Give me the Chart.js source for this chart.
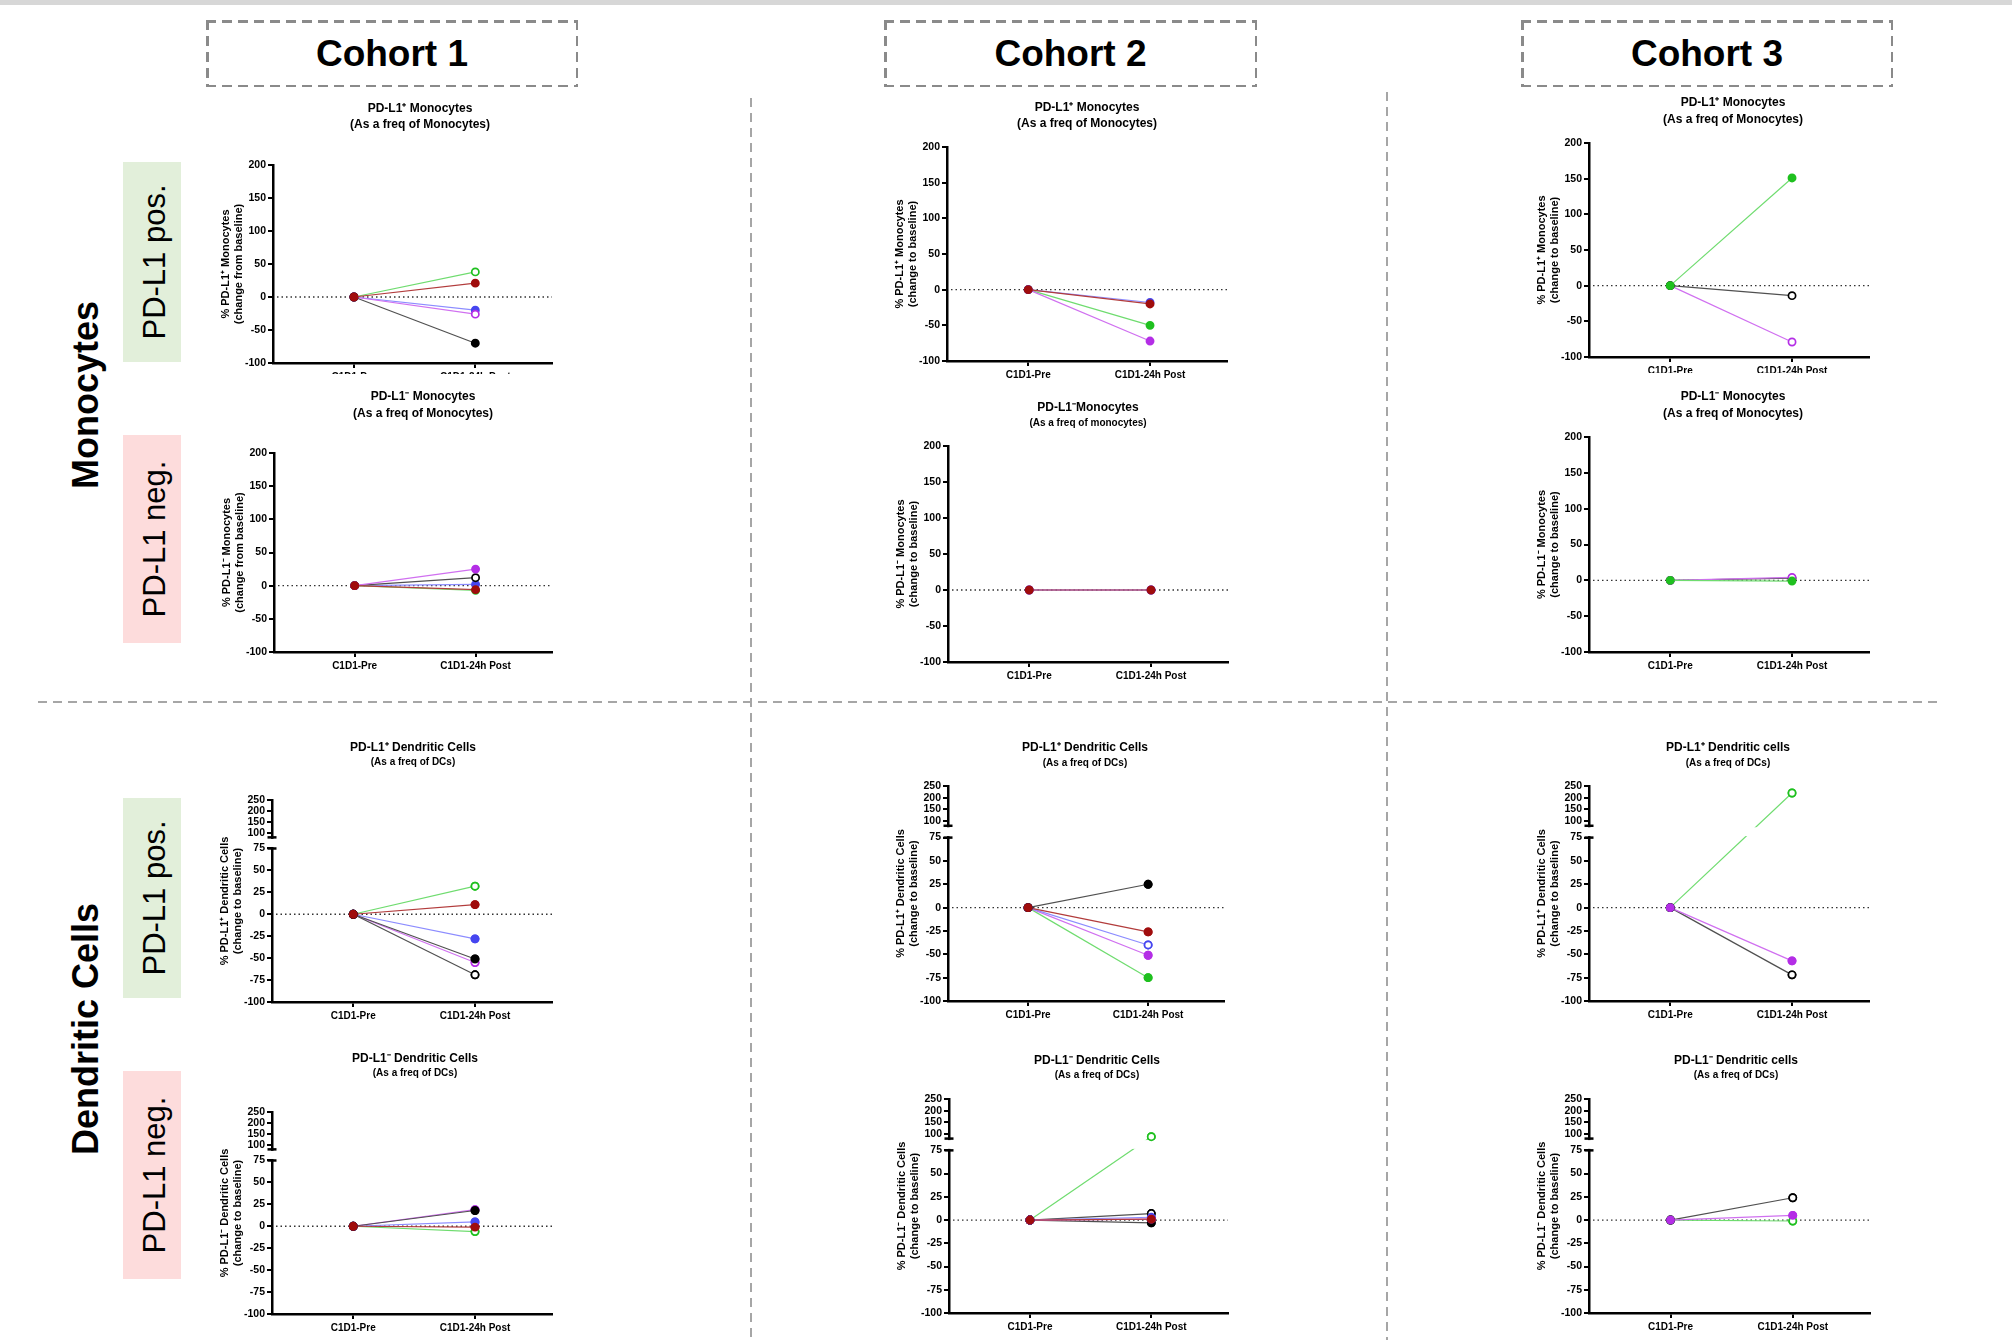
<!DOCTYPE html>
<html>
<head>
<meta charset="utf-8">
<script src="https://cdn.jsdelivr.net/npm/chart.js@4.4.1/dist/chart.umd.min.js"></script>
<style>
html, body { margin: 0; padding: 0; background: #fff; }
#page { position: relative; width: 2012px; height: 1340px; overflow: hidden;
        font-family: 'Liberation Sans', Arial, Helvetica, sans-serif; color: #000; }
.vlabel { position: absolute; transform: translate(-50%, -50%) rotate(-90deg); white-space: nowrap; }
.box { position: absolute; }
.cohort { position: absolute; display: flex; align-items: center; justify-content: center;
          font-weight: bold; font-size: 37px; }
</style>
</head>
<body>
<div id="page"></div>
<script>
// ---- data ----
const xLabels = ['C1D1-Pre', 'C1D1-24h Post'];
const monoTicks = [-100, -50, 0, 50, 100, 150, 200];
const dcTicks = [-100, -75, -50, -25, 0, 25, 50, 75, 100, 150, 200, 250];

// series are listed bottom-most first, top-most last
// Cohort 1
const c1MonoPosKeys = ['greenO', 'blue', 'purpleO', 'black', 'red'];
const c1MonoPosPre  = [0, 0, 0, 0, 0];
const c1MonoPosPost = [38, -20, -26, -70, 21];

const c1MonoNegKeys = ['blue', 'green', 'blackO', 'purple', 'red'];
const c1MonoNegPre  = [0, 0, 0, 0, 0];
const c1MonoNegPost = [2, -7, 12, 25, -6];

const c1DcPosKeys = ['greenO', 'blue', 'purpleO', 'blackO', 'black', 'red'];
const c1DcPosPre  = [0, 0, 0, 0, 0, 0];
const c1DcPosPost = [32, -28, -55, -69, -51, 11];

const c1DcNegKeys = ['greenO', 'blue', 'purple', 'black', 'red'];
const c1DcNegPre  = [0, 0, 0, 0, 0];
const c1DcNegPost = [-6, 5, 19, 18, -1];

// Cohort 2
const c2MonoPosKeys = ['green', 'purple', 'blue', 'red'];
const c2MonoPosPre  = [0, 0, 0, 0];
const c2MonoPosPost = [-50, -72, -18, -20];

const c2MonoNegKeys = ['purple', 'blue', 'red'];
const c2MonoNegPre  = [0, 0, 0];
const c2MonoNegPost = [0, 0, 0];

const c2DcPosKeys = ['green', 'purple', 'blueO', 'black', 'red'];
const c2DcPosPre  = [0, 0, 0, 0, 0];
const c2DcPosPost = [-75, -51, -40, 25, -26];

const c2DcNegKeys = ['greenO', 'blackO', 'black', 'blue', 'purple', 'red'];
const c2DcNegPre  = [0, 0, 0, 0, 0, 0];
const c2DcNegPost = [88, 7, -3, 3, 1, 1];

// Cohort 3
const c3MonoPosKeys = ['purpleO', 'blackO', 'green'];
const c3MonoPosPre  = [0, 0, 0];
const c3MonoPosPost = [-79, -14, 151];

const c3MonoNegKeys = ['blackO', 'purpleO', 'green'];
const c3MonoNegPre  = [0, 0, 0];
const c3MonoNegPost = [3, 4, -1];

const c3DcPosKeys = ['greenO', 'blackO', 'purple'];
const c3DcPosPre  = [0, 0, 0];
const c3DcPosPost = [220, -72, -57];

const c3DcNegKeys = ['greenO', 'blackO', 'purple'];
const c3DcNegPre  = [0, 0, 0];
const c3DcNegPost = [-1, 24, 5];

// line colour, marker colour
const palette = {
  green:  ['#6fdc6f', '#1fc01f'],
  red:    ['#b23c3c', '#a00d0d'],
  blue:   ['#8c8cff', '#4646f0'],
  purple: ['#d070f0', '#b42ee6'],
  black:  ['#505050', '#000000'],
};

const panels = [
  { id: 'c1mp', title: 'PD-L1⁺ Monocytes', sub: '(As a freq of Monocytes)', yTitle: ['% PD-L1⁺ Monocytes', '(change from baseline)'],
    keys: c1MonoPosKeys, pre: c1MonoPosPre, post: c1MonoPosPost, ticks: monoTicks },
  { id: 'c1mn', title: 'PD-L1⁻ Monocytes', sub: '(As a freq of Monocytes)', yTitle: ['% PD-L1⁻ Monocytes', '(change from baseline)'],
    keys: c1MonoNegKeys, pre: c1MonoNegPre, post: c1MonoNegPost, ticks: monoTicks },
  { id: 'c2mp', title: 'PD-L1⁺ Monocytes', sub: '(As a freq of Monocytes)', yTitle: ['% PD-L1⁺ Monocytes', '(change to baseline)'],
    keys: c2MonoPosKeys, pre: c2MonoPosPre, post: c2MonoPosPost, ticks: monoTicks },
  { id: 'c2mn', title: 'PD-L1⁻Monocytes', sub: '(As a freq of monocytes)', yTitle: ['% PD-L1⁻ Monocytes', '(change to baseline)'],
    keys: c2MonoNegKeys, pre: c2MonoNegPre, post: c2MonoNegPost, ticks: monoTicks },
  { id: 'c3mp', title: 'PD-L1⁺ Monocytes', sub: '(As a freq of Monocytes)', yTitle: ['% PD-L1⁺ Monocytes', '(change to baseline)'],
    keys: c3MonoPosKeys, pre: c3MonoPosPre, post: c3MonoPosPost, ticks: monoTicks },
  { id: 'c3mn', title: 'PD-L1⁻ Monocytes', sub: '(As a freq of Monocytes)', yTitle: ['% PD-L1⁻ Monocytes', '(change to baseline)'],
    keys: c3MonoNegKeys, pre: c3MonoNegPre, post: c3MonoNegPost, ticks: monoTicks },
  { id: 'c1dp', title: 'PD-L1⁺ Dendritic Cells', sub: '(As a freq of DCs)', yTitle: ['% PD-L1⁺ Dendritic Cells', '(change to baseline)'],
    keys: c1DcPosKeys, pre: c1DcPosPre, post: c1DcPosPost, ticks: dcTicks },
  { id: 'c1dn', title: 'PD-L1⁻ Dendritic Cells', sub: '(As a freq of DCs)', yTitle: ['% PD-L1⁻ Dendritic Cells', '(change to baseline)'],
    keys: c1DcNegKeys, pre: c1DcNegPre, post: c1DcNegPost, ticks: dcTicks },
  { id: 'c2dp', title: 'PD-L1⁺ Dendritic Cells', sub: '(As a freq of DCs)', yTitle: ['% PD-L1⁺ Dendritic Cells', '(change to baseline)'],
    keys: c2DcPosKeys, pre: c2DcPosPre, post: c2DcPosPost, ticks: dcTicks },
  { id: 'c2dn', title: 'PD-L1⁻ Dendritic Cells', sub: '(As a freq of DCs)', yTitle: ['% PD-L1⁻ Dendritic Cells', '(change to baseline)'],
    keys: c2DcNegKeys, pre: c2DcNegPre, post: c2DcNegPost, ticks: dcTicks },
  { id: 'c3dp', title: 'PD-L1⁺ Dendritic cells', sub: '(As a freq of DCs)', yTitle: ['% PD-L1⁺ Dendritic Cells', '(change to baseline)'],
    keys: c3DcPosKeys, pre: c3DcPosPre, post: c3DcPosPost, ticks: dcTicks },
  { id: 'c3dn', title: 'PD-L1⁻ Dendritic cells', sub: '(As a freq of DCs)', yTitle: ['% PD-L1⁻ Dendritic Cells', '(change to baseline)'],
    keys: c3DcNegKeys, pre: c3DcNegPre, post: c3DcNegPost, ticks: dcTicks },
];

// ---- layout (page pixels) ----
const geo = {
  c1mp: { axisX: 273,  plotRight: 552,  top: 165,  bottom: 363,  titleX: 420,  titleY: 108,  subY: 124,  ss: 12, xh: 11 },
  c1mn: { axisX: 274,  plotRight: 552,  top: 453,  bottom: 652,  titleX: 423,  titleY: 396,  subY: 413,  ss: 12, xh: 25 },
  c2mp: { axisX: 947,  plotRight: 1227, top: 147,  bottom: 361,  titleX: 1087, titleY: 107,  subY: 123,  ss: 12, xh: 25 },
  c2mn: { axisX: 948,  plotRight: 1228, top: 446,  bottom: 662,  titleX: 1088, titleY: 407,  subY: 423,  ss: 10, xh: 25 },
  c3mp: { axisX: 1589, plotRight: 1869, top: 143,  bottom: 357,  titleX: 1733, titleY: 102,  subY: 119,  ss: 12, xh: 16 },
  c3mn: { axisX: 1589, plotRight: 1869, top: 437,  bottom: 652,  titleX: 1733, titleY: 396,  subY: 413,  ss: 12, xh: 25 },
  c1dp: { axisX: 272,  plotRight: 552,  top: 800,  bottom: 1002, titleX: 413,  titleY: 747,  subY: 762,  ss: 10, xh: 25 },
  c1dn: { axisX: 272,  plotRight: 552,  top: 1112, bottom: 1314, titleX: 415,  titleY: 1058, subY: 1073, ss: 10, xh: 25 },
  c2dp: { axisX: 948,  plotRight: 1224, top: 786,  bottom: 1001, titleX: 1085, titleY: 747,  subY: 763,  ss: 10, xh: 25 },
  c2dn: { axisX: 949,  plotRight: 1228, top: 1099, bottom: 1313, titleX: 1097, titleY: 1060, subY: 1075, ss: 10, xh: 25 },
  c3dp: { axisX: 1589, plotRight: 1869, top: 786,  bottom: 1001, titleX: 1728, titleY: 747,  subY: 763,  ss: 10, xh: 25 },
  c3dn: { axisX: 1589, plotRight: 1870, top: 1099, bottom: 1313, titleX: 1736, titleY: 1060, subY: 1075, ss: 10, xh: 25 },
};
const Y_W = 60;      // width of the left axis block
const TITLE_SIZE = 12;
const FONT = "'Liberation Sans', Arial, Helvetica, sans-serif";

Chart.defaults.font.family = FONT;
Chart.defaults.color = '#000';
Chart.defaults.animation = false;

// linear scale with a gap between loMax and hiMin (GraphPad style broken axis)
class BrokenLinearScale extends Chart.LinearScale {
  static id = 'brokenLinear';
  _frac(v) {
    const b = this.options.brk;
    if (v >= b.hiMin) return b.hiFrac * (this.max - v) / (this.max - b.hiMin);
    if (v <= b.loMax) return b.loFrac + (1 - b.loFrac) * (b.loMax - v) / (b.loMax - this.min);
    return b.hiFrac + (b.loFrac - b.hiFrac) * (b.hiMin - v) / (b.hiMin - b.loMax);
  }
  getPixelForValue(value) {
    if (value === null || value === undefined) return NaN;
    return this.top + this._frac(value) * (this.bottom - this.top);
  }
  getValueForPixel(pixel) {
    const b = this.options.brk;
    const f = (pixel - this.top) / (this.bottom - this.top);
    if (f <= b.hiFrac) return this.max - f / b.hiFrac * (this.max - b.hiMin);
    if (f >= b.loFrac) return b.loMax - (f - b.loFrac) / (1 - b.loFrac) * (b.loMax - this.min);
    return b.hiMin - (f - b.hiFrac) / (b.loFrac - b.hiFrac) * (b.hiMin - b.loMax);
  }
}
Chart.register(BrokenLinearScale);

const zeroLine = {
  id: 'zeroLine',
  beforeDatasetsDraw(chart) {
    const { ctx, chartArea } = chart;
    const py = chart.scales.y.getPixelForValue(0);
    ctx.save();
    ctx.setLineDash([1.5, 3]);
    ctx.strokeStyle = '#333';
    ctx.lineWidth = 1.3;
    ctx.beginPath();
    ctx.moveTo(chartArea.left + 4, py);
    ctx.lineTo(chartArea.right, py);
    ctx.stroke();
    ctx.restore();
  }
};

const axisBreak = {
  id: 'axisBreak',
  afterDatasetsDraw(chart) {
    const y = chart.scales.y;
    const b = y.options.brk;
    const { ctx, chartArea } = chart;
    const h = y.bottom - y.top;
    const yHi = y.top + b.hiFrac * h;
    const yLo = y.top + b.loFrac * h;
    ctx.save();
    // blank the gap, then put the markers back (same stacking as Chart.js: index 0 on top)
    ctx.fillStyle = '#fff';
    ctx.fillRect(chartArea.left - 3, yHi + 1.5, chartArea.right - chartArea.left + 6, yLo - yHi - 3);
    for (let i = chart.data.datasets.length - 1; i >= 0; i--) {
      chart.getDatasetMeta(i).data.forEach(pt => pt.draw(ctx));
    }
    ctx.strokeStyle = '#000';
    ctx.lineWidth = 2.5;
    [yHi, yLo].forEach(py => {
      ctx.beginPath();
      ctx.moveTo(chartArea.left - 4.5, py);
      ctx.lineTo(chartArea.left + 4.5, py);
      ctx.stroke();
    });
    ctx.restore();
  }
};

const page = document.getElementById('page');

function el(cls, css, text) {
  const d = document.createElement('div');
  if (cls) d.className = cls;
  d.style.cssText = css;
  if (text) d.textContent = text;
  page.appendChild(d);
  return d;
}

function dash(x, y, len, vertical, w, on, off, color) {
  const dir = vertical ? 'to bottom' : 'to right';
  const size = vertical ? `width:${w}px;height:${len}px;` : `width:${len}px;height:${w}px;`;
  el('', `position:absolute;left:${x}px;top:${y}px;${size}` +
    `background:repeating-linear-gradient(${dir},${color} 0 ${on}px,transparent ${on}px ${on + off}px);`);
}

function dashBox(x, y, w, h) {
  const c = '#8a8a8a';
  dash(x, y, w, false, 2.5, 10, 6, c);
  dash(x, y + h - 2.5, w, false, 2.5, 10, 6, c);
  dash(x, y, h, true, 2.5, 10, 6, c);
  dash(x + w - 2.5, y, h, true, 2.5, 10, 6, c);
}

// ---- frame: bars, separators, headings ----
el('', 'position:absolute;left:0;top:0;width:2012px;height:5px;background:#d7d7d7;');
dash(750, 98, 1242, true, 2, 9, 6, '#a6a6a6');
dash(1386, 92, 1248, true, 2, 9, 6, '#a6a6a6');
dash(38, 701, 1900, false, 2, 9, 6, '#a6a6a6');

const cohorts = [
  { text: 'Cohort 1', x: 206, w: 372 },
  { text: 'Cohort 2', x: 884, w: 373 },
  { text: 'Cohort 3', x: 1521, w: 372 },
];
cohorts.forEach(c => {
  dashBox(c.x, 20, c.w, 67);
  el('cohort', `left:${c.x}px;top:20px;width:${c.w}px;height:67px;`, c.text);
});

el('vlabel', 'left:86px;top:395px;font-size:36px;font-weight:bold;', 'Monocytes');
el('vlabel', 'left:86px;top:1029px;font-size:36px;font-weight:bold;', 'Dendritic Cells');

const rowBoxes = [
  { text: 'PD-L1 pos.', top: 162, h: 200, bg: '#e2efda' },
  { text: 'PD-L1 neg.', top: 435, h: 208, bg: '#fddcdc' },
  { text: 'PD-L1 pos.', top: 798, h: 200, bg: '#e2efda' },
  { text: 'PD-L1 neg.', top: 1071, h: 208, bg: '#fddcdc' },
];
rowBoxes.forEach(b => {
  el('box', `left:123px;top:${b.top}px;width:58px;height:${b.h}px;background:${b.bg};`);
  el('vlabel', `left:155px;top:${b.top + b.h / 2}px;font-size:31px;`, b.text);
});

// ---- charts ----
function styleFor(key) {
  const open = key.endsWith('O');
  const [line, mark] = palette[open ? key.slice(0, -1) : key];
  return { line, mark, open };
}

function drawPanel(p) {
  const g = geo[p.id];
  const broken = p.ticks === dcTicks;
  const tLH = TITLE_SIZE * 1.2;
  const sLH = g.ss * 1.2;
  const left = Math.round(g.axisX - Y_W);
  const width = Math.round(2 * (g.titleX - left));
  const top = Math.round(g.titleY - tLH / 2);
  const height = Math.round(g.bottom + g.xh - top);
  const padRight = left + width - g.plotRight;
  const subPadTop = g.subY - g.titleY - tLH / 2 - sLH / 2;
  const subPadBottom = g.top - top - tLH - subPadTop - sLH;

  const canvas = document.createElement('canvas');
  canvas.width = width;
  canvas.height = height;
  canvas.style.cssText = `position:absolute;left:${left}px;top:${top}px;width:${width}px;height:${height}px;`;
  page.appendChild(canvas);

  const datasets = p.keys.map((k, i) => {
    const s = styleFor(k);
    return {
      data: [{ x: 0, y: p.pre[i] }, { x: 1, y: p.post[i] }],
      yAxisID: 'y',
      borderColor: s.line,
      borderWidth: 1.2,
      pointRadius: 3.6,
      pointHoverRadius: 3.6,
      pointBorderWidth: 1.7,
      pointBorderColor: s.mark,
      pointBackgroundColor: s.open ? '#ffffff' : s.mark,
      tension: 0,
    };
  });
  // Chart.js paints dataset 0 last, so flip to keep the listed top-most series on top
  datasets.reverse();

  const axisGrid = { display: true, drawOnChartArea: false, drawTicks: true, tickLength: 5, color: '#000', lineWidth: 2 };
  const axisBorder = { display: true, color: '#000', width: 2.5 };

  new Chart(canvas, {
    type: 'line',
    data: { datasets },
    options: {
      responsive: false,
      animation: false,
      events: [],
      layout: { padding: 0 },
      plugins: {
        legend: { display: false },
        tooltip: { enabled: false },
        title: {
          display: true, text: p.title, color: '#000',
          font: { size: TITLE_SIZE, weight: 'bold', lineHeight: 1.2 },
          padding: { top: 0, bottom: 0 }
        },
        subtitle: {
          display: true, text: p.sub, color: '#000',
          font: { size: g.ss, weight: 'bold', lineHeight: 1.2 },
          padding: { top: subPadTop, bottom: subPadBottom }
        }
      },
      scales: {
        x: {
          type: 'linear',
          min: -0.667,
          max: 1.632,
          afterBuildTicks: s => { s.ticks = [{ value: 0 }, { value: 1 }]; },
          afterFit: s => { s.height = g.xh; },
          ticks: {
            autoSkip: false, maxRotation: 0, padding: 3,
            font: { size: 10, weight: 'bold' },
            callback: v => xLabels[v]
          },
          grid: axisGrid,
          border: axisBorder
        },
        y: {
          type: broken ? 'brokenLinear' : 'linear',
          position: 'left',
          min: -100,
          max: broken ? 250 : 200,
          brk: broken ? { hiMin: 80, loMax: 75, hiFrac: 0.185, loFrac: 0.24 } : undefined,
          afterBuildTicks: s => { s.ticks = p.ticks.map(v => ({ value: v })); },
          afterFit: s => { s.width = Y_W; },
          ticks: {
            autoSkip: false, padding: 2,
            font: { size: 10.5, weight: 'bold' },
            callback: v => String(v)
          },
          grid: axisGrid,
          border: axisBorder,
          title: {
            display: true, text: p.yTitle, color: '#000',
            font: { size: 11, weight: 'bold', lineHeight: 1.18 },
            padding: { top: 6, bottom: 0 }
          }
        },
        // empty right block so the title centres where the original does
        pad: {
          type: 'linear', position: 'right', min: 0, max: 1,
          afterFit: s => { s.width = padRight; },
          ticks: { display: false },
          grid: { display: false },
          border: { display: false }
        }
      }
    },
    plugins: broken ? [zeroLine, axisBreak] : [zeroLine]
  });
}

panels.forEach(drawPanel);
</script>
</body>
</html>
